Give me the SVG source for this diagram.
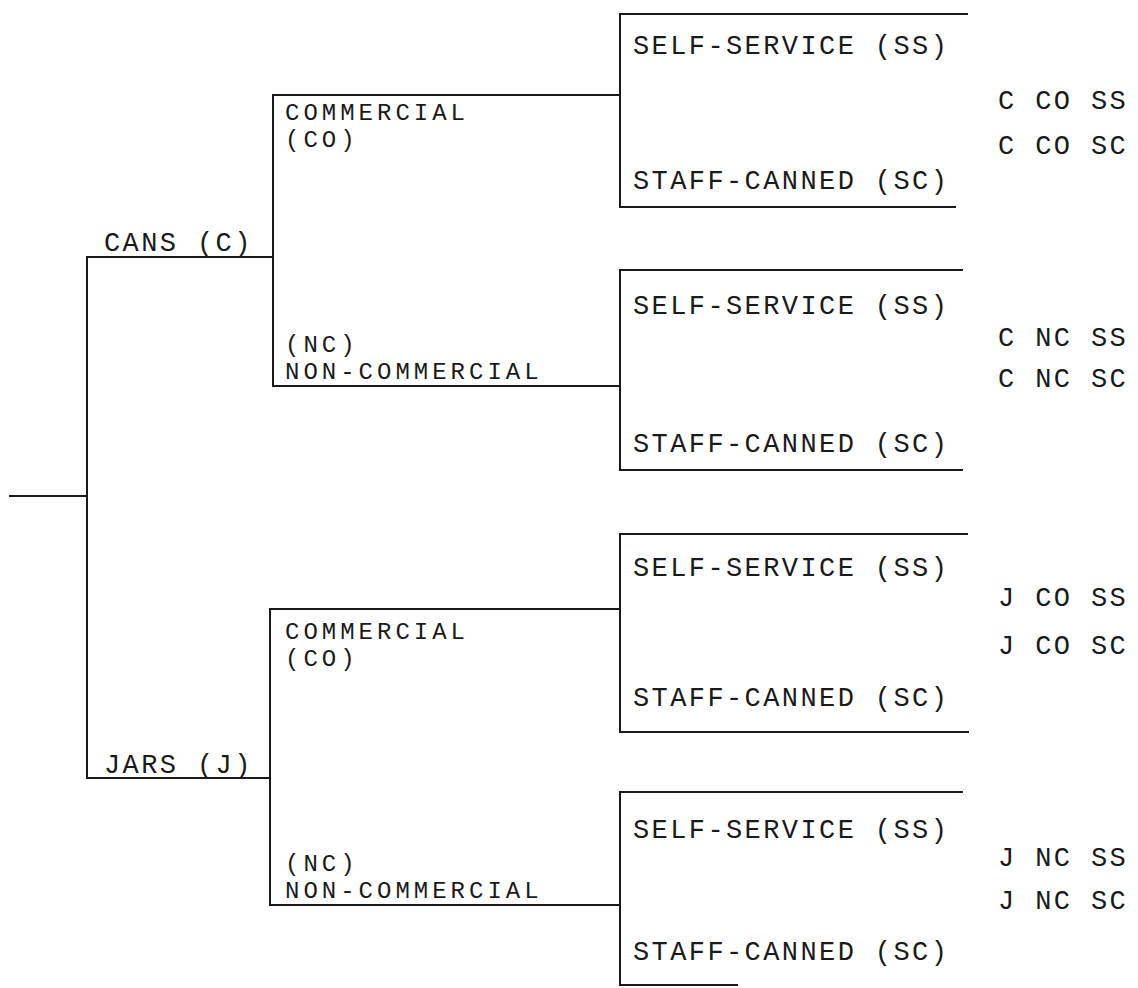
<svg xmlns="http://www.w3.org/2000/svg" width="1138" height="988" viewBox="0 0 1138 988">
<style>
.ln{stroke:#1a1a1a;stroke-width:2;fill:none;stroke-linecap:square}
text{font-family:"Liberation Mono","DejaVu Sans Mono",monospace;font-size:27px;fill:#1a1a1a;letter-spacing:2.4px}
text.two{font-size:24px;letter-spacing:4px}
</style>
<rect width="1138" height="988" fill="#fff"/>
<g id="connectors" class="ln">
<path d="M10,496 H87"/>
<path d="M87,257 V778"/>
<path d="M87,257 H273 M273,95 V386"/>
<path d="M87,778 H270 M270,609 V905"/>
<path d="M273,95 H620"/>
<path d="M273,386 H620"/>
<path d="M270,609 H620"/>
<path d="M270,905 H620"/>
</g>
<g id="cans"><text x="104" y="251">CANS (C)</text></g>
<g id="jars"><text x="104" y="773">JARS (J)</text></g>
<g id="c-co"><text class="two" x="285" y="120">COMMERCIAL</text><text class="two" x="285" y="147">(CO)</text></g>
<g id="c-nc"><text class="two" x="285" y="352">(NC)</text><text class="two" x="285" y="379">NON-COMMERCIAL</text></g>
<g id="j-co"><text class="two" x="285" y="639">COMMERCIAL</text><text class="two" x="285" y="666">(CO)</text></g>
<g id="j-nc"><text class="two" x="285" y="871">(NC)</text><text class="two" x="285" y="898">NON-COMMERCIAL</text></g>
<g id="c-co-box"><path class="ln" d="M967,14 H620 V207 H955"/><text x="633" y="54">SELF-SERVICE (SS)</text><text x="633" y="189">STAFF-CANNED (SC)</text></g>
<g id="c-nc-box"><path class="ln" d="M962,270 H620 V470 H962"/><text x="633" y="314">SELF-SERVICE (SS)</text><text x="633" y="452">STAFF-CANNED (SC)</text></g>
<g id="j-co-box"><path class="ln" d="M967,534 H620 V732 H968"/><text x="633" y="576">SELF-SERVICE (SS)</text><text x="633" y="706">STAFF-CANNED (SC)</text></g>
<g id="j-nc-box"><path class="ln" d="M962,792 H620 V985 H737"/><text x="633" y="838">SELF-SERVICE (SS)</text><text x="633" y="960">STAFF-CANNED (SC)</text></g>
<g id="c-co-ss"><text x="998" y="109">C CO SS</text></g>
<g id="c-co-sc"><text x="998" y="154">C CO SC</text></g>
<g id="c-nc-ss"><text x="998" y="346">C NC SS</text></g>
<g id="c-nc-sc"><text x="998" y="387">C NC SC</text></g>
<g id="j-co-ss"><text x="998" y="606">J CO SS</text></g>
<g id="j-co-sc"><text x="998" y="654">J CO SC</text></g>
<g id="j-nc-ss"><text x="998" y="866">J NC SS</text></g>
<g id="j-nc-sc"><text x="998" y="909">J NC SC</text></g>
</svg>
